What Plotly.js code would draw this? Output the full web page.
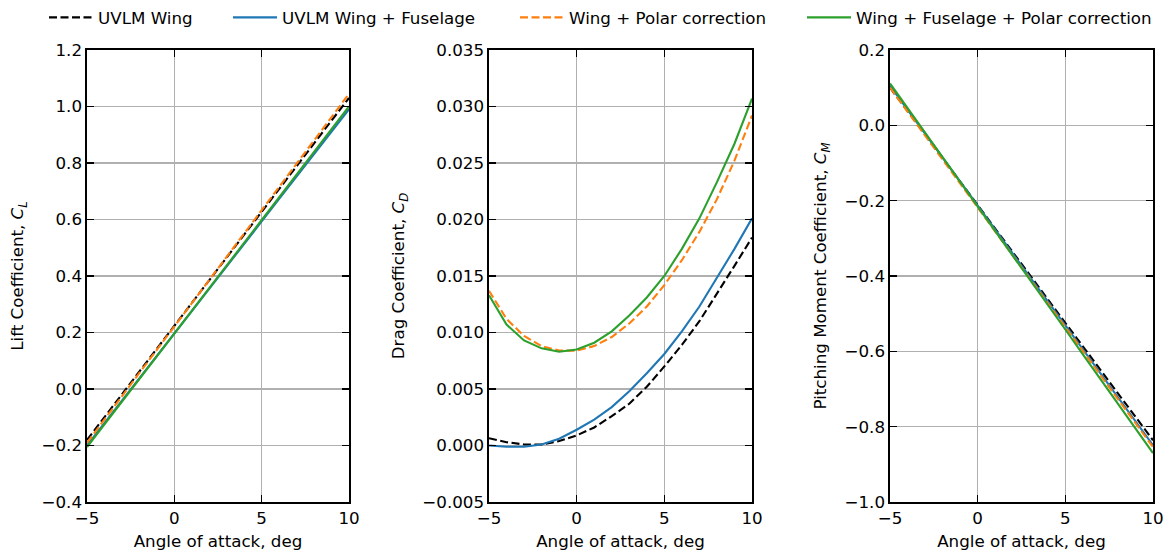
<!DOCTYPE html>
<html>
<head>
<meta charset="utf-8">
<script src="https://cdn.plot.ly/plotly-3.0.1.min.js"></script>
<style>
html,body{margin:0;padding:0;background:#fff;}
#chart{width:1167px;height:556px;}
</style>
</head>
<body>
<div id="chart"></div>
<script>
// ---- data ----
const alpha = [-5,-4,-3,-2,-1,0,1,2,3,4,5,6,7,8,9,10];

const seriesNames = ["UVLM Wing", "UVLM Wing + Fuselage", "Wing + Polar correction", "Wing + Fuselage + Polar correction"];

// Lift coefficient
const clWing        = [-0.180,-0.099,-0.018,0.063,0.144,0.225,0.305,0.386,0.467,0.548,0.628,0.709,0.789,0.870,0.950,1.030];
const clWingFus     = [-0.200,-0.121,-0.041,0.038,0.117,0.197,0.276,0.355,0.435,0.514,0.593,0.673,0.752,0.831,0.911,0.990];
const clWingPolar   = [-0.190,-0.108,-0.025,0.057,0.139,0.222,0.304,0.386,0.468,0.551,0.633,0.715,0.798,0.880,0.962,1.045];
const clWingFusPolar= [-0.205,-0.125,-0.044,0.036,0.116,0.197,0.277,0.357,0.438,0.518,0.598,0.679,0.759,0.839,0.920,1.000];

// Drag coefficient
const cdWing        = [0.00065,0.0003,0.0001,0.0001,0.0004,0.0009,0.0016,0.0026,0.0037,0.0052,0.0070,0.0089,0.0110,0.0134,0.0159,0.0184];
const cdWingFus     = [0.0000,-0.0001,-0.0001,0.0001,0.0006,0.0014,0.0023,0.0034,0.0048,0.0064,0.0081,0.0101,0.0123,0.0148,0.0174,0.0201];
const cdWingPolar   = [0.0137,0.0112,0.0097,0.0088,0.0084,0.0084,0.0088,0.0096,0.0108,0.0123,0.0142,0.0164,0.0189,0.0218,0.0252,0.0292];
const cdWingFusPolar= [0.0133,0.0107,0.0093,0.0086,0.0083,0.0085,0.0091,0.0101,0.0115,0.0131,0.0150,0.0174,0.0201,0.0233,0.0267,0.0307];

// Pitching moment coefficient
const cmWing        = [0.100,0.038,-0.025,-0.087,-0.150,-0.212,-0.275,-0.337,-0.399,-0.462,-0.524,-0.587,-0.649,-0.711,-0.774,-0.836];
const cmWingFus     = [0.105,0.041,-0.022,-0.086,-0.149,-0.213,-0.277,-0.340,-0.404,-0.467,-0.531,-0.595,-0.658,-0.722,-0.785,-0.849];
const cmWingPolar   = [0.100,0.036,-0.027,-0.091,-0.154,-0.218,-0.282,-0.345,-0.409,-0.472,-0.536,-0.600,-0.663,-0.727,-0.790,-0.854];
const cmWingFusPolar= [0.111,0.046,-0.019,-0.084,-0.149,-0.214,-0.280,-0.345,-0.411,-0.477,-0.542,-0.608,-0.673,-0.739,-0.805,-0.870];

// ---- styles ----
const FONT = "DejaVu Sans";
const FS = 16.7;
const styles = [
  {color:"#000000", dash:"8px,3.5px"},
  {color:"#1f77b4", dash:"solid"},
  {color:"#ff7f0e", dash:"8px,3.5px"},
  {color:"#2ca02c", dash:"solid"}
];
const legendIds = ["legend","legend2","legend3","legend4"];

const panels = [
  {ys:[clWing,clWingFus,clWingPolar,clWingFusPolar], xa:"x", ya:"y"},
  {ys:[cdWing,cdWingFus,cdWingPolar,cdWingFusPolar], xa:"x2", ya:"y2"},
  {ys:[cmWing,cmWingFus,cmWingPolar,cmWingFusPolar], xa:"x3", ya:"y3"}
];

const traces = [];
panels.forEach((p, pi) => {
  p.ys.forEach((y, si) => {
    traces.push({
      x: alpha, y: y, xaxis: p.xa, yaxis: p.ya,
      type: "scatter", mode: "lines",
      name: seriesNames[si],
      line: {color: styles[si].color, dash: styles[si].dash, width: 2.1},
      showlegend: pi === 0,
      legend: legendIds[si]
    });
  });
});

function xAxis(domain, anchor) {
  return {
    domain: domain, anchor: anchor, range: [-5, 10], dtick: 5, tick0: 0,
    showline: true, linecolor: "#000", linewidth: 1.6, mirror: "ticks",
    ticks: "inside", ticklen: 7, tickwidth: 1.2, tickcolor: "#000",
    showgrid: true, gridcolor: "#b0b0b0", gridwidth: 1.4, zeroline: false,
    tickfont: {family: FONT, size: FS, color: "#000"},
    title: {text: "Angle of attack, deg", font: {family: FONT, size: FS, color: "#000"}, standoff: 8},
    automargin: false
  };
}
function yAxis(domain, anchor, range, dtick, fmt, title) {
  return {
    domain: domain, anchor: anchor, range: range, dtick: dtick, tick0: 0, tickformat: fmt,
    showline: true, linecolor: "#000", linewidth: 1.6, mirror: "ticks",
    ticks: "inside", ticklen: 7, tickwidth: 1.2, tickcolor: "#000",
    showgrid: true, gridcolor: "#b0b0b0", gridwidth: 1.4, zeroline: false,
    tickfont: {family: FONT, size: FS, color: "#000"},
    title: {text: title, font: {family: FONT, size: FS, color: "#000"}, standoff: 13},
    automargin: false
  };
}

const W = 1167, H = 556;
const yDom = [1 - 502/H, 1 - 49/H];
const d1 = [87/W, 349/W], d2 = [489/W, 752/W], d3 = [890/W, 1153/W];

function leg(xpx) {
  return {
    x: xpx / W, xanchor: "left", y: 1 - 16.5/H, yanchor: "middle",
    orientation: "h", bgcolor: "rgba(0,0,0,0)", borderwidth: 0,
    font: {family: FONT, size: FS, color: "#000"}, itemwidth: 44
  };
}

const layout = {
  width: W, height: H,
  margin: {l: 0, r: 0, t: 0, b: 0},
  paper_bgcolor: "#fff", plot_bgcolor: "#fff",
  font: {family: FONT, size: FS, color: "#000"},
  showlegend: true,
  legend: leg(44), legend2: leg(228), legend3: leg(515), legend4: leg(802),
  xaxis: xAxis(d1, "y"),
  yaxis: yAxis(yDom, "x", [-0.4, 1.2], 0.2, ".1f", "Lift Coefficient, <i>C</i><sub><i>L</i></sub>"),
  xaxis2: xAxis(d2, "y2"),
  yaxis2: yAxis(yDom, "x2", [-0.005, 0.035], 0.005, ".3f", "Drag Coefficient, <i>C</i><sub><i>D</i></sub>"),
  xaxis3: xAxis(d3, "y3"),
  yaxis3: yAxis(yDom, "x3", [-1.0, 0.2], 0.2, ".1f", "Pitching Moment Coefficient, <i>C</i><sub><i>M</i></sub>")
};

Plotly.newPlot("chart", traces, layout, {displayModeBar: false, staticPlot: true});
</script>
</body>
</html>
